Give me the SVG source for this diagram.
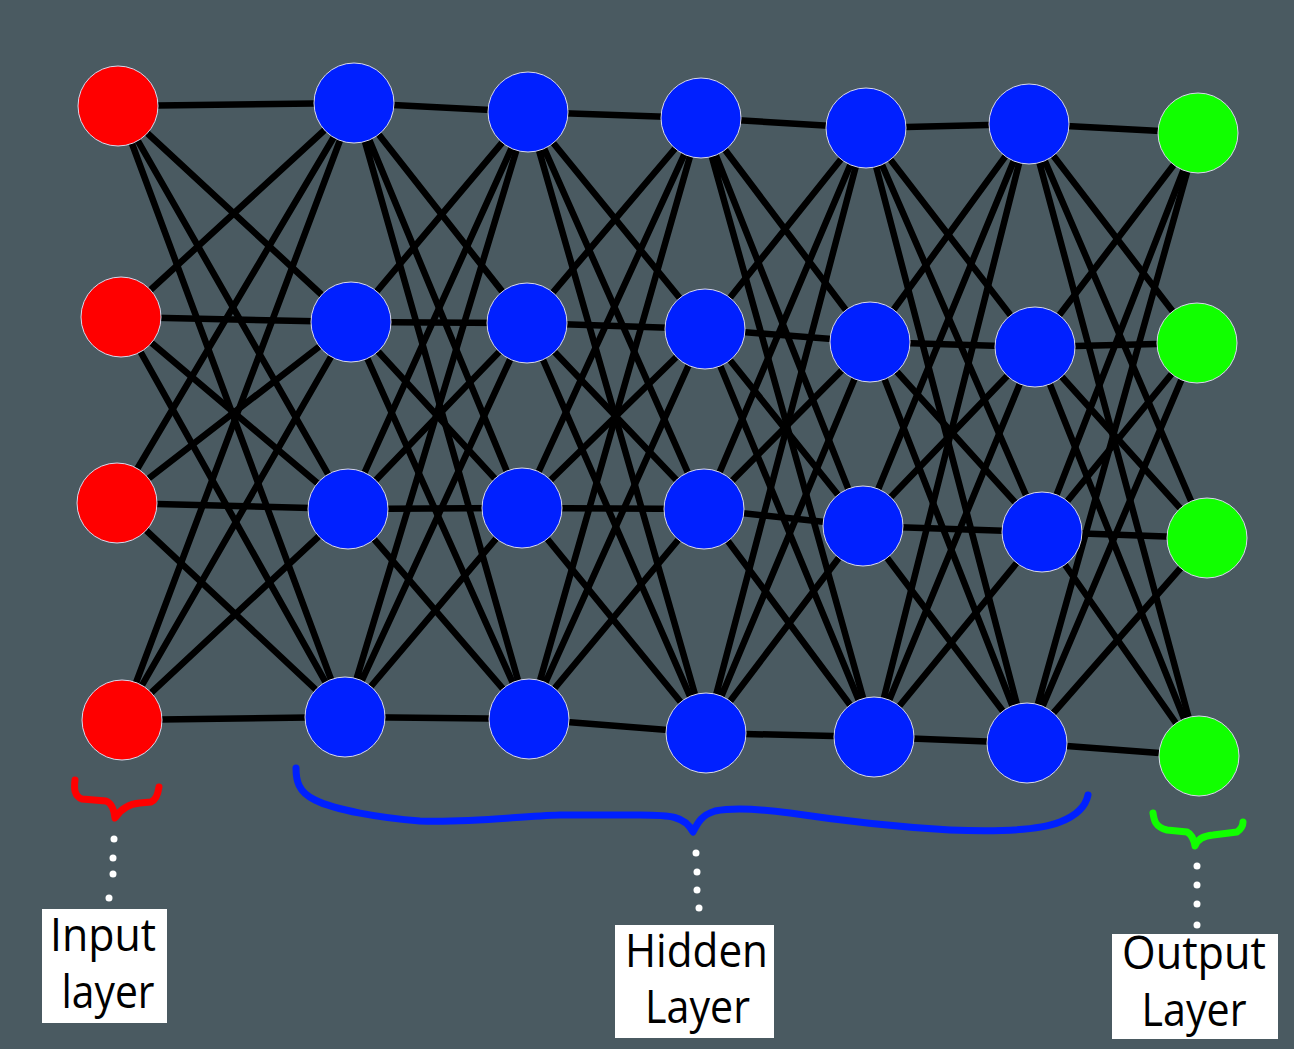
<svg xmlns="http://www.w3.org/2000/svg" width="1294" height="1049" viewBox="0 0 1294 1049">
<style>
.e{fill:none;stroke:#000;stroke-width:6.5;stroke-linecap:round;stroke-linejoin:round}
.n{stroke:#d8d8ec;stroke-width:1}
.in{fill:#ff0000}
.hd{fill:#0020ff}
.out{fill:#11ff00}
.br{fill:none;stroke-width:7;stroke-linecap:round;stroke-linejoin:round}
.dot{fill:#fff}
.box{fill:#fff}
.lbl{font-family:"Open Sans","Noto Sans",sans-serif;font-size:45px;fill:#000;text-anchor:middle}
</style>
<rect width="1294" height="1049" fill="#4a5a61"/>
<g id="connectors">
<path class="e" d="M118 106L354 103M118 106L351 322M118 106L348 509M118 106L345 717"/>
<path class="e" d="M121 317L354 103M121 317L351 322M121 317L348 509M121 317L345 717"/>
<path class="e" d="M117 503L354 103M117 503L351 322M117 503L348 509M117 503L345 717"/>
<path class="e" d="M122 720L354 103M122 720L351 322M122 720L348 509M122 720L345 717"/>
<path class="e" d="M354 103L528 112M354 103L527 323M354 103L522 508M354 103L529 719"/>
<path class="e" d="M351 322L528 112M351 322L527 323M351 322L522 508M351 322L529 719"/>
<path class="e" d="M348 509L528 112M348 509L527 323M348 509L522 508M348 509L529 719"/>
<path class="e" d="M345 717L528 112M345 717L527 323M345 717L522 508M345 717L529 719"/>
<path class="e" d="M528 112L701 118M528 112L705 329M528 112L704 509M528 112L706 733"/>
<path class="e" d="M527 323L701 118M527 323L705 329M527 323L704 509M527 323L706 733"/>
<path class="e" d="M522 508L701 118M522 508L705 329M522 508L704 509M522 508L706 733"/>
<path class="e" d="M529 719L701 118M529 719L705 329M529 719L704 509M529 719L706 733"/>
<path class="e" d="M701 118L866 128M701 118L870 342M701 118L863 526M701 118L874 737"/>
<path class="e" d="M705 329L866 128M705 329L870 342M705 329L863 526M705 329L874 737"/>
<path class="e" d="M704 509L866 128M704 509L870 342M704 509L863 526M704 509L874 737"/>
<path class="e" d="M706 733L866 128M706 733L870 342M706 733L863 526M706 733L874 737"/>
<path class="e" d="M866 128L1029 124M866 128L1035 347M866 128L1042 532M866 128L1027 743"/>
<path class="e" d="M870 342L1029 124M870 342L1035 347M870 342L1042 532M870 342L1027 743"/>
<path class="e" d="M863 526L1029 124M863 526L1035 347M863 526L1042 532M863 526L1027 743"/>
<path class="e" d="M874 737L1029 124M874 737L1035 347M874 737L1042 532M874 737L1027 743"/>
<path class="e" d="M1029 124L1198 133M1029 124L1197 343M1029 124L1207 538M1029 124L1199 756"/>
<path class="e" d="M1035 347L1198 133M1035 347L1197 343M1035 347L1207 538M1035 347L1199 756"/>
<path class="e" d="M1042 532L1198 133M1042 532L1197 343M1042 532L1207 538M1042 532L1199 756"/>
<path class="e" d="M1027 743L1198 133M1027 743L1197 343M1027 743L1207 538M1027 743L1199 756"/>
</g>
<g id="input-layer">
<circle id="i1" class="n in" cx="118" cy="106" r="40"/>
<circle id="i2" class="n in" cx="121" cy="317" r="40"/>
<circle id="i3" class="n in" cx="117" cy="503" r="40"/>
<circle id="i4" class="n in" cx="122" cy="720" r="40"/>
</g>
<g id="hidden-layer">
<circle id="h11" class="n hd" cx="354" cy="103" r="40"/>
<circle id="h12" class="n hd" cx="351" cy="322" r="40"/>
<circle id="h13" class="n hd" cx="348" cy="509" r="40"/>
<circle id="h14" class="n hd" cx="345" cy="717" r="40"/>
<circle id="h21" class="n hd" cx="528" cy="112" r="40"/>
<circle id="h22" class="n hd" cx="527" cy="323" r="40"/>
<circle id="h23" class="n hd" cx="522" cy="508" r="40"/>
<circle id="h24" class="n hd" cx="529" cy="719" r="40"/>
<circle id="h31" class="n hd" cx="701" cy="118" r="40"/>
<circle id="h32" class="n hd" cx="705" cy="329" r="40"/>
<circle id="h33" class="n hd" cx="704" cy="509" r="40"/>
<circle id="h34" class="n hd" cx="706" cy="733" r="40"/>
<circle id="h41" class="n hd" cx="866" cy="128" r="40"/>
<circle id="h42" class="n hd" cx="870" cy="342" r="40"/>
<circle id="h43" class="n hd" cx="863" cy="526" r="40"/>
<circle id="h44" class="n hd" cx="874" cy="737" r="40"/>
<circle id="h51" class="n hd" cx="1029" cy="124" r="40"/>
<circle id="h52" class="n hd" cx="1035" cy="347" r="40"/>
<circle id="h53" class="n hd" cx="1042" cy="532" r="40"/>
<circle id="h54" class="n hd" cx="1027" cy="743" r="40"/>
</g>
<g id="output-layer">
<circle id="o1" class="n out" cx="1198" cy="133" r="40"/>
<circle id="o2" class="n out" cx="1197" cy="343" r="40"/>
<circle id="o3" class="n out" cx="1207" cy="538" r="40"/>
<circle id="o4" class="n out" cx="1199" cy="756" r="40"/>
</g>
<g id="braces">
<path class="br" stroke="#ff0000" d="M75 780C74 788 74 796 82 799L106 801C112 803 114 810 115 818C120 810 128 804 140 803L151 802C156 800 158 794 159 787"/>
<path class="br" stroke="#0020ff" d="M296 768C296 780 298 792 315 800C335 810 380 818 420 821C470 823 520 816 560 815L640 815C670 815 685 816 693 832C698 822 702 815 715 811C735 807 760 809 790 813C830 819 880 826 950 830C1000 832 1040 830 1060 822C1078 815 1086 805 1088 795"/>
<path class="br" stroke="#11ff00" d="M1153 813C1154 820 1155 827 1167 830L1187 832C1191 834 1194 840 1195 846C1197 840 1202 836 1213 835L1237 832C1241 829 1243 825 1243 822"/>
</g>
<g id="dots">
<circle class="dot" cx="114" cy="839" r="3.5"/>
<circle class="dot" cx="113" cy="858" r="3.5"/>
<circle class="dot" cx="113" cy="874" r="3.5"/>
<circle class="dot" cx="109" cy="898" r="3.5"/>
<circle class="dot" cx="696" cy="853" r="3.5"/>
<circle class="dot" cx="697" cy="872" r="3.5"/>
<circle class="dot" cx="697" cy="890" r="3.5"/>
<circle class="dot" cx="699" cy="908" r="3.5"/>
<circle class="dot" cx="1197" cy="866" r="3.5"/>
<circle class="dot" cx="1197" cy="885" r="3.5"/>
<circle class="dot" cx="1197" cy="904" r="3.5"/>
<circle class="dot" cx="1197" cy="925" r="3.5"/>
</g>
<g id="label-input">
<rect class="box" x="42" y="909" width="125" height="114"/>
<text class="lbl" x="103" y="951" textLength="106" lengthAdjust="spacingAndGlyphs">Input</text>
<text class="lbl" x="108" y="1008" textLength="93" lengthAdjust="spacingAndGlyphs">layer</text>
</g>
<g id="label-hidden">
<rect class="box" x="615" y="925" width="159" height="113"/>
<text class="lbl" x="696.5" y="967" textLength="143" lengthAdjust="spacingAndGlyphs">Hidden</text>
<text class="lbl" x="697.5" y="1023" textLength="105" lengthAdjust="spacingAndGlyphs">Layer</text>
</g>
<g id="label-output">
<rect class="box" x="1112" y="934" width="166" height="105"/>
<text class="lbl" x="1194" y="969" textLength="144" lengthAdjust="spacingAndGlyphs">Output</text>
<text class="lbl" x="1194" y="1026" textLength="105" lengthAdjust="spacingAndGlyphs">Layer</text>
</g>
</svg>
